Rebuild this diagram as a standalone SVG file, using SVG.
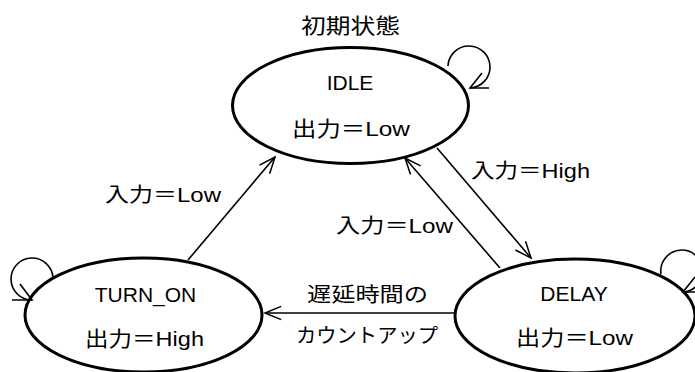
<svg xmlns="http://www.w3.org/2000/svg" width="695" height="372" viewBox="0 0 695 372">
<style>
.node{fill:#fff;stroke:#000;stroke-width:3}
.edge{fill:none;stroke:#000;stroke-width:1.6}
text{font-family:"Liberation Sans","Noto Sans CJK JP",sans-serif;fill:#000}
.nl{font-size:21px}
.el{font-size:20px}
</style>
<defs>
<marker id="arr" markerUnits="userSpaceOnUse" markerWidth="20" markerHeight="20" viewBox="-19 -10 21 20" refX="0" refY="0" orient="auto">
<path d="M-17,-7 L0,0 L-17,7" fill="none" stroke="#000" stroke-width="1.6"/>
</marker>
</defs>
<rect width="695" height="372" fill="#fff"/>
<g id="IDLE">
<text class="el" x="301" y="33" textLength="99" lengthAdjust="spacingAndGlyphs" style="font-size:21px">初期状態</text>
<ellipse class="node" cx="350.5" cy="105.5" rx="118" ry="58"/>
<text class="nl" x="350" y="90" text-anchor="middle">IDLE</text>
<text class="nl" x="292" y="136" textLength="118" lengthAdjust="spacingAndGlyphs">出力＝Low</text>
</g>
<g id="TURN_ON">
<ellipse class="node" cx="143.5" cy="315" rx="118.5" ry="57"/>
<text class="nl" x="145.5" y="302" text-anchor="middle">TURN_ON</text>
<text class="nl" x="85" y="346" textLength="119" lengthAdjust="spacingAndGlyphs">出力＝High</text>
</g>
<g id="DELAY">
<ellipse class="node" cx="575" cy="316" rx="120" ry="57"/>
<text class="nl" x="574" y="301" text-anchor="middle">DELAY</text>
<text class="nl" x="516" y="345" textLength="117" lengthAdjust="spacingAndGlyphs">出力＝Low</text>
</g>
<g id="connectors">
<path class="edge" d="M188,260 L275,157" marker-end="url(#arr)"/>
<path class="edge" d="M437,148 L531,258" marker-end="url(#arr)"/>
<path class="edge" d="M500,268 L405,158" marker-end="url(#arr)"/>
<path class="edge" d="M455,313 L265,313" marker-end="url(#arr)"/>
<path class="edge" d="M448,66 A21,21 0 1 1 470,88"/>
<path class="edge" d="M489,88 L470,88 L482,73"/>
<path class="edge" d="M53,278 A21,21 0 1 0 32,300"/>
<path class="edge" d="M12,300 L32,300 L20,284"/>
<path class="edge" d="M661,274 A21,21 0 1 1 683,292"/>
<path class="edge" d="M702,292 L683,292 L695,277"/>
<text class="el" x="105" y="202" textLength="116" lengthAdjust="spacingAndGlyphs">入力＝Low</text>
<text class="el" x="471" y="178" textLength="119" lengthAdjust="spacingAndGlyphs">入力＝High</text>
<text class="el" x="336" y="233" textLength="117" lengthAdjust="spacingAndGlyphs">入力＝Low</text>
<text class="el" x="307" y="302" textLength="121" lengthAdjust="spacingAndGlyphs">遅延時間の</text>
<text class="el" x="296" y="343" textLength="142" lengthAdjust="spacingAndGlyphs">カウントアップ</text>
</g>
</svg>
